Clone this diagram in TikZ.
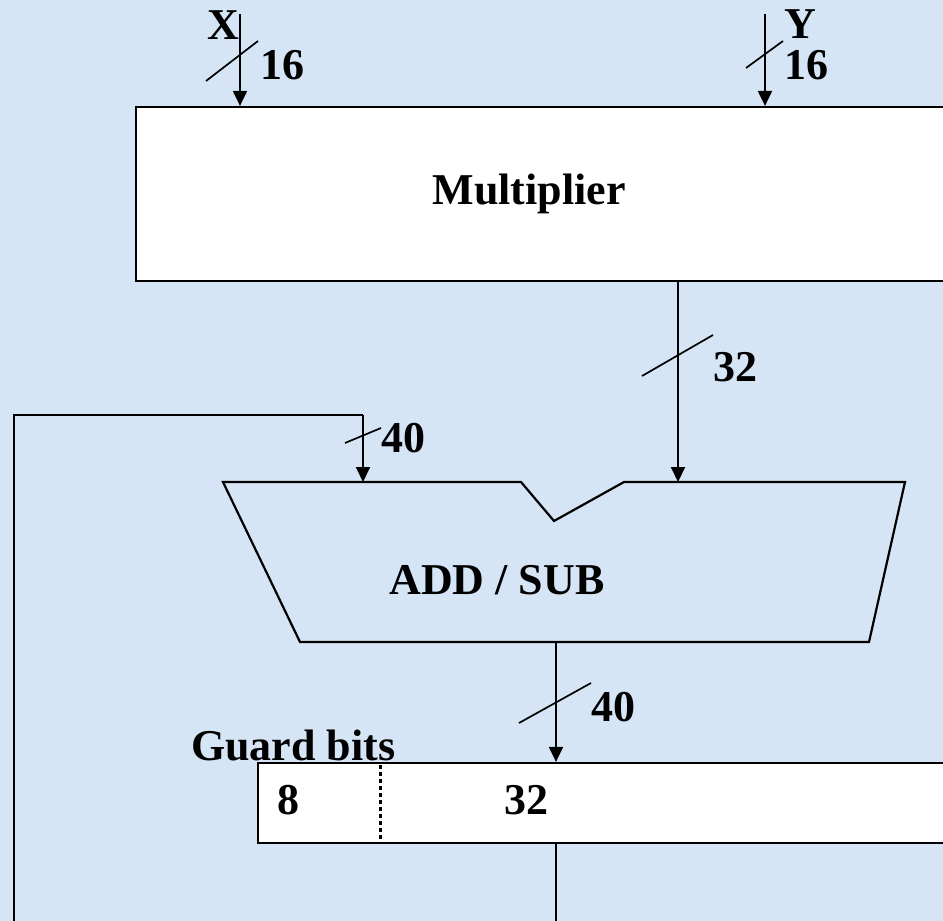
\documentclass[tikz,border=0pt]{standalone}
\usepackage{fontspec}
\setmainfont{Liberation Serif}
\usetikzlibrary{arrows.meta}
\definecolor{bgblue}{RGB}{213,229,246}
\tikzset{
  box/.style={draw=black, line width=2.2pt, fill=white, inner sep=0pt},
  lbl/.style={inner sep=0pt, font=\fontsize{44}{50}\selectfont\bfseries},
  wire/.style={line width=2pt},
  arr/.style={wire, -{Triangle[length=15pt,width=14pt]}},
  tick/.style={line width=1.7pt},
  shapeline/.style={draw=black, line width=2.2pt, fill=bgblue, line join=miter},
}
\begin{document}
\begin{tikzpicture}[x=1pt,y=-1pt]
\useasboundingbox (0,0) rectangle (943,921);
\fill[bgblue] (0,0) rectangle (943,921);
\clip (0,0) rectangle (943,921);

% Multiplier
\node[box, minimum width=840pt, minimum height=174pt] (mult) at (556,194) {};
\node[lbl] (multtxt) at (529,194) {Multiplier};

% Inputs
\coordinate (xin) at (240,14);
\coordinate (yin) at (765,14);
\draw[arr] (xin) -- (xin |- mult.north);
\draw[arr] (yin) -- (yin |- mult.north);
\draw[tick] (206,81) -- (258,41);
\draw[tick] (746,68) -- (783,41);
\node[lbl] (xl) at (223,25) {X};
\node[lbl] (xw) at (282,65) {16};
\node[lbl] (yl) at (800,24) {Y};
\node[lbl] (yw) at (806,65) {16};

% ADD/SUB
\coordinate (asTL) at (223,482);
\coordinate (nL) at (521,482);
\coordinate (nB) at (554,521);
\coordinate (nR) at (624,482);
\coordinate (asTR) at (905,482);
\coordinate (asBR) at (869,642);
\coordinate (asBL) at (300,642);
\draw[shapeline] (asTL) -- (nL) -- (nB) -- (nR) -- (asTR) -- (asBR) -- (asBL) -- cycle;
\node[lbl] (astxt) at (497,580) {ADD / SUB};

% Multiplier -> ADD/SUB
\coordinate (min) at (678,482);
\draw[arr] (mult.south -| min) -- (min);
\draw[tick] (642,376) -- (713,335);
\node[lbl] (w32) at (735,367) {32};

% Accumulator
\node[box, minimum width=722pt, minimum height=80pt] (acc) at (619,803) {};
\draw[line width=3pt, dash pattern=on 4pt off 3pt] (380,765) -- (380,841);
\node[lbl] (g8) at (288,800) {8};
\node[lbl] (g32) at (526,800) {32};
\node[lbl, anchor=base west] (guard) at (191,760) {Guard bits};

% ADD/SUB -> Accumulator
\coordinate (aout) at (556,642);
\draw[arr] (aout) -- (aout |- acc.north);
\draw[tick] (519,723) -- (591,683);
\node[lbl] (w40b) at (613,707) {40};

% Accumulator output and feedback
\coordinate (accout) at (556,921);
\draw[wire] (acc.south -| accout) -- (accout);
\coordinate (fbB) at (14,925);
\coordinate (fbT) at (14,415);
\coordinate (fbR) at (363,415);
\coordinate (fbin) at (363,482);
\draw[wire] (fbB) -- (fbT) -- (fbR);
\draw[arr] (fbR) -- (fbin);
\draw[tick] (345,443) -- (381,428);
\node[lbl] (w40a) at (403,438) {40};
\end{tikzpicture}
\end{document}
